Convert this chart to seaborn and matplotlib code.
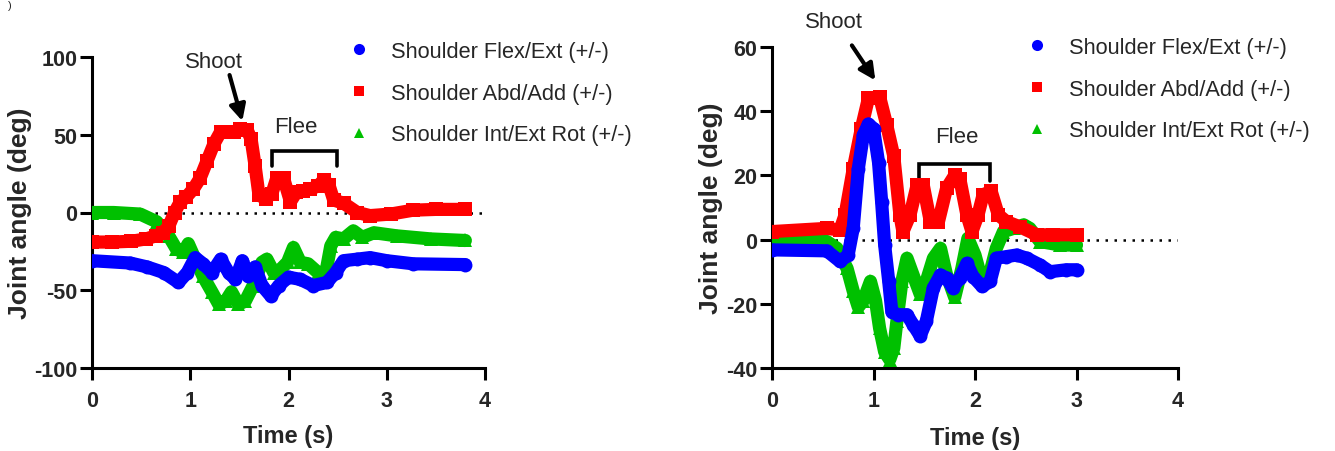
import numpy as np
import pandas as pd
import matplotlib
matplotlib.use("Agg")
import matplotlib.pyplot as plt
from matplotlib.lines import Line2D
import seaborn as sns

# ---------------- data ----------------
series_labels = ["Shoulder Flex/Ext (+/-)", "Shoulder Abd/Add (+/-)", "Shoulder Int/Ext Rot (+/-)"]
series_colors = ["#0000FF", "#FF0000", "#00C000"]
series_markers = ["o", "s", "^"]

# Left panel
left_flex_t = [0, 0.39, 0.56, 0.73, 0.88, 0.97, 1.05, 1.13, 1.22, 1.31, 1.39, 1.46, 1.53, 1.59, 1.66,
               1.73, 1.82, 1.9, 2.0, 2.12, 2.25, 2.39, 2.48, 2.56, 2.7, 2.83, 3.0, 3.27, 3.8]
left_flex_y = [-31, -32.5, -35, -38.6, -45, -38.6, -29, -33, -38.6, -30, -38.6, -43, -31, -41, -35,
               -47, -53.7, -47, -41.6, -43, -47, -45, -38.6, -31, -30, -29, -31, -33, -33.5]

left_abd_t = [0, 0.2, 0.4, 0.55, 0.65, 0.72, 0.78, 0.84, 0.9, 0.96, 1.03, 1.1, 1.17, 1.24, 1.31, 1.38,
              1.45, 1.51, 1.58, 1.62, 1.66, 1.7, 1.77, 1.83, 1.88, 1.95, 2.02, 2.08, 2.15, 2.22, 2.3,
              2.36, 2.41, 2.46, 2.56, 2.7, 2.83, 3.04, 3.27, 3.5, 3.8]
left_abd_y = [-19, -19, -18.5, -17, -15, -13, -9, 0, 7, 10, 15, 22, 33, 44, 52, 52,
              52, 54, 53, 47, 30, 11, 9, 12, 22, 22, 7, 13, 14, 15, 17,
              21, 18, 8, 6, 0, -2, -1, 1.5, 2, 2]

left_rot_t = [0, 0.22, 0.49, 0.66, 0.78, 0.86, 0.93, 0.98, 1.05, 1.13, 1.22, 1.29, 1.36, 1.42, 1.49,
              1.56, 1.64, 1.73, 1.78, 1.85, 1.92, 1.99, 2.05, 2.12, 2.2, 2.3, 2.38, 2.43, 2.48, 2.56,
              2.66, 2.75, 2.87, 3.1, 3.45, 3.8]
left_rot_y = [0, 0, -1, -6, -15, -23.6, -25.6, -20, -30, -41, -51, -59, -57, -51, -59,
              -57, -47, -32, -30, -38.6, -36.5, -32, -22.5, -32, -33, -38.6, -38.6, -21.5, -16, -17,
              -11.8, -16, -13, -15, -17, -18]

# Right panel
right_flex_t = [0, 0.54, 0.67, 0.75, 0.8, 0.85, 0.9, 0.95, 1.0, 1.05, 1.08, 1.11, 1.15, 1.18, 1.24,
                1.33, 1.39, 1.46, 1.52, 1.59, 1.66, 1.72, 1.78, 1.85, 1.92, 1.98, 2.07, 2.15, 2.21,
                2.31, 2.41, 2.51, 2.64, 2.74, 2.9, 3.0]
right_flex_y = [-3.2, -3.5, -6.8, -4.8, 3.5, 22, 32.6, 36, 34.6, 24, 11.8, -1.7, -13, -22.4, -23.4,
                -23.4, -26.5, -30, -25.5, -15, -11, -12, -15, -12, -7.4, -11.5, -14.6, -13, -5.8,
                -5.3, -4.8, -5.8, -7.9, -10, -9.4, -9.4]

right_abd_t = [0, 0.54, 0.67, 0.72, 0.8, 0.88, 0.95, 1.06, 1.13, 1.2, 1.26, 1.29, 1.36, 1.43, 1.49,
               1.56, 1.64, 1.72, 1.8, 1.85, 1.92, 1.97, 2.03, 2.08, 2.16, 2.23, 2.31, 2.44, 2.61,
               2.77, 3.0]
right_abd_y = [2.5, 3.5, 3, 7.7, 22, 34.6, 44, 44.5, 35.7, 26, 7.7, 2.5, 7.7, 17, 17,
               5.6, 5.6, 16, 20, 19, 7.7, 2.5, 7.7, 14, 15, 7.7, 5.6, 4, 1.5,
               1.5, 1.5]

right_rot_t = [0, 0.54, 0.64, 0.74, 0.8, 0.85, 0.9, 0.97, 1.02, 1.06, 1.11, 1.16, 1.2, 1.23, 1.28,
               1.33, 1.39, 1.46, 1.52, 1.59, 1.66, 1.72, 1.8, 1.87, 1.93, 2.0, 2.07, 2.15, 2.21,
               2.28, 2.38, 2.48, 2.54, 2.64, 2.84, 3.0]
right_rot_y = [-0.6, -0.6, -2.7, -9, -16, -21, -19, -13, -19, -27.6, -35, -37.4, -33.8, -25.5, -13,
               -5.8, -11, -17, -13, -5.8, -2.7, -11, -18, -9, 0.4, -4.8, -13, -10, -2.7,
               2.5, 3.5, 4.6, 3.5, -0.6, -1.7, -1.7]

x_ticks = [0, 1, 2, 3, 4]
left_y_ticks = [-100, -50, 0, 50, 100]
right_y_ticks = [-40, -20, 0, 20, 40, 60]
x_label = "Time (s)"
y_label = "Joint angle (deg)"

# ---------------- style ----------------
sns.set_theme(style="ticks")
plt.rcParams["font.family"] = ["Liberation Sans", "DejaVu Sans"]
plt.rcParams["axes.linewidth"] = 2.2

W, H = 1335, 452
fig = plt.figure(figsize=(W / 100, H / 100), dpi=100)


def px_axes(x0, y0, x1, y1):
    return fig.add_axes([x0 / W, 1 - y1 / H, (x1 - x0) / W, (y1 - y0) / H])


ax1 = px_axes(92, 58, 485, 369)
ax2 = px_axes(772, 48, 1178, 369)

LW = 9.5
MS = 10


def draw(ax, ts, ys, ylim, yticks, ylab_x, xlab_y):
    ax.plot([0, 4], [0, 0], color="black", lw=1.8, linestyle=(0, (1, 2.6)), zorder=1)
    order = [2, 1, 0]  # green bottom, red, blue on top
    for z, i in enumerate(order):
        df = pd.DataFrame({"t": ts[i], "y": ys[i]})
        sns.lineplot(data=df, x="t", y="y", ax=ax, color=series_colors[i], sort=False,
                     estimator=None, linewidth=LW, marker=series_markers[i], markersize=MS,
                     markeredgewidth=0, legend=False, zorder=3 + z,
                     solid_joinstyle="round", solid_capstyle="round")
    ax.set_xlim(0, 4)
    ax.set_ylim(*ylim)
    ax.set_xticks(x_ticks)
    ax.set_yticks(yticks)
    ax.set_xticklabels([str(v) for v in x_ticks], fontweight="bold", fontsize=15.5)
    ax.set_yticklabels([str(v) for v in yticks], fontweight="bold", fontsize=15.5)
    ax.tick_params(axis="both", length=8.5, width=2.2, color="black", direction="out")
    ax.tick_params(axis="x", pad=7)
    ax.tick_params(axis="y", pad=2)
    for s in ["top", "right"]:
        ax.spines[s].set_visible(False)
    for s in ["left", "bottom"]:
        ax.spines[s].set_color("black")
    ax.set_xlabel(x_label, fontweight="bold", fontsize=17)
    ax.set_ylabel(y_label, fontweight="bold", fontsize=19)
    ax.yaxis.label.set_va("center")
    ax.xaxis.label.set_va("center")
    ax.yaxis.set_label_coords(ylab_x, 0.5)
    ax.xaxis.set_label_coords(0.5, xlab_y)
    ax.set_facecolor("white")


draw(ax1, [left_flex_t, left_abd_t, left_rot_t], [left_flex_y, left_abd_y, left_rot_y],
     (-100, 100), left_y_ticks, (20 - 92) / 393, -(437 - 369) / 311)
draw(ax2, [right_flex_t, right_abd_t, right_rot_t], [right_flex_y, right_abd_y, right_rot_y],
     (-40, 60), right_y_ticks, (711 - 772) / 406, -(439 - 369) / 321)

# annotations
arrow = dict(arrowstyle="-|>", lw=3, color="black", mutation_scale=24, shrinkA=0, shrinkB=0)
ax1.annotate("", xy=(1.53, 58.8), xytext=(1.40, 88.4), arrowprops=arrow, annotation_clip=False)
ax1.text(1.245, 96.8, "Shoot", fontsize=16, ha="center", va="center", clip_on=False)
ax1.text(2.07, 55, "Flee", fontsize=16, ha="center", va="center")
ax1.plot([1.83, 1.83, 2.49, 2.49], [30, 39.7, 39.7, 30], color="black", lw=2.6, clip_on=False,
         solid_joinstyle="miter")

ax2.annotate("", xy=(1.018, 49.6), xytext=(0.787, 60.5), arrowprops=arrow, annotation_clip=False)
ax2.text(0.614, 67.8, "Shoot", fontsize=16, ha="center", va="center", clip_on=False)
ax2.text(1.822, 32, "Flee", fontsize=16, ha="center", va="center")
ax2.plot([1.445, 1.445, 2.15, 2.15], [18.2, 23.5, 23.5, 18.2], color="black", lw=2.6,
         solid_joinstyle="miter")

# legends
handles = [Line2D([], [], linestyle="None", marker=m, color=c, markersize=ms, markeredgewidth=0)
           for m, c, ms in zip(series_markers, series_colors, [8, 7, 7.5])]
for lx, ly in [(348, 42), (1026, 38)]:
    fig.legend(handles, series_labels, loc="upper left", bbox_to_anchor=(lx / W, 1 - ly / H),
               frameon=False, fontsize=15.7, handlelength=1.0, handletextpad=0.95,
               labelspacing=0.95, borderpad=0, borderaxespad=0)

fig.text(0.006, 0.998, ")", fontsize=8, ha="left", va="top")

fig.savefig("out.png", dpi=100, facecolor="white")
